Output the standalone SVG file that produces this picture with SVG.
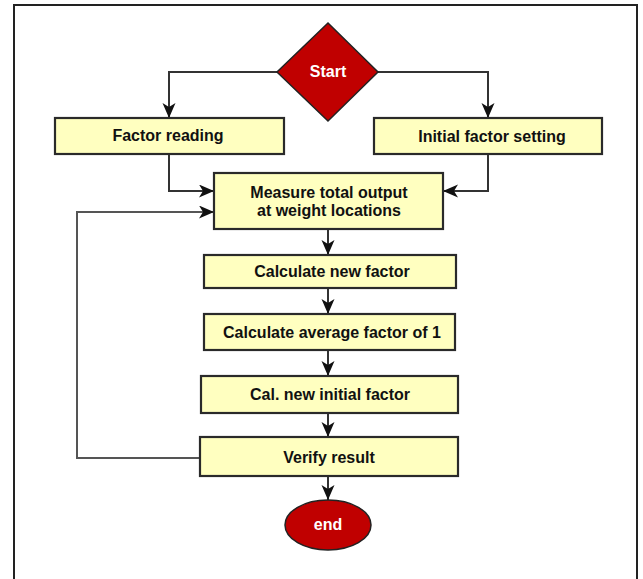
<svg xmlns="http://www.w3.org/2000/svg" width="643" height="579" viewBox="0 0 643 579">
<defs>
<marker id="arr" markerUnits="userSpaceOnUse" markerWidth="16" markerHeight="14" refX="15" refY="6.5" orient="auto">
<path d="M0,0 L15,6.5 L0,13 L4,6.5 z" fill="#111"/>
</marker>
</defs>
<style>
.box{fill:#FFFFC0;stroke:#2a2a2a;stroke-width:2.2}
.red{fill:#C00000;stroke:#222;stroke-width:1.5}
.t{font-family:"Liberation Sans",Arial,sans-serif;font-weight:bold;font-size:16px;fill:#111;text-anchor:middle}
.w{fill:#fff}
.c{fill:none;stroke:#333;stroke-width:2;marker-end:url(#arr)}
</style>
<rect x="0" y="0" width="643" height="579" fill="#fff"/>
<rect x="14" y="5" width="623" height="600" fill="#fff" stroke="#222" stroke-width="2"/>
<g id="connectors">
<path class="c" d="M277,72 H169 V118"/>
<path class="c" d="M378,72 H488 V118"/>
<path class="c" d="M169,154 V191 H214"/>
<path class="c" d="M488,154 V191 H443"/>
<path class="c" d="M200,458 H77 V212 H214" style="stroke:#555"/>
<path class="c" d="M328,229 V255"/>
<path class="c" d="M328,288 V314"/>
<path class="c" d="M328,350 V376"/>
<path class="c" d="M328,413 V437"/>
<path class="c" d="M328,476 V500"/>
</g>
<g id="start">
<polygon class="red" points="328,23 378,72 328,121 277,72"/>
<text class="t w" x="328" y="77">Start</text>
</g>
<g id="factor-reading">
<rect class="box" x="55" y="118" width="229" height="36"/>
<text class="t" x="168" y="141">Factor reading</text>
</g>
<g id="initial-factor-setting">
<rect class="box" x="374" y="118" width="228" height="36"/>
<text class="t" x="492" y="142">Initial factor setting</text>
</g>
<g id="measure">
<rect class="box" x="214" y="173" width="229" height="56"/>
<text class="t" x="329" y="198">Measure total output</text>
<text class="t" x="329" y="216">at weight locations</text>
</g>
<g id="calc-new">
<rect class="box" x="204" y="255" width="252" height="33"/>
<text class="t" x="332" y="277">Calculate new factor</text>
</g>
<g id="calc-avg">
<rect class="box" x="204" y="314" width="251" height="36"/>
<text class="t" x="332" y="338">Calculate average factor of 1</text>
</g>
<g id="cal-initial">
<rect class="box" x="201" y="376" width="257" height="37"/>
<text class="t" x="330" y="400">Cal. new initial factor</text>
</g>
<g id="verify">
<rect class="box" x="200" y="437" width="258" height="39"/>
<text class="t" x="329" y="463">Verify result</text>
</g>
<g id="end">
<ellipse class="red" cx="328" cy="525" rx="43" ry="25"/>
<text class="t w" x="328" y="530">end</text>
</g>
</svg>
